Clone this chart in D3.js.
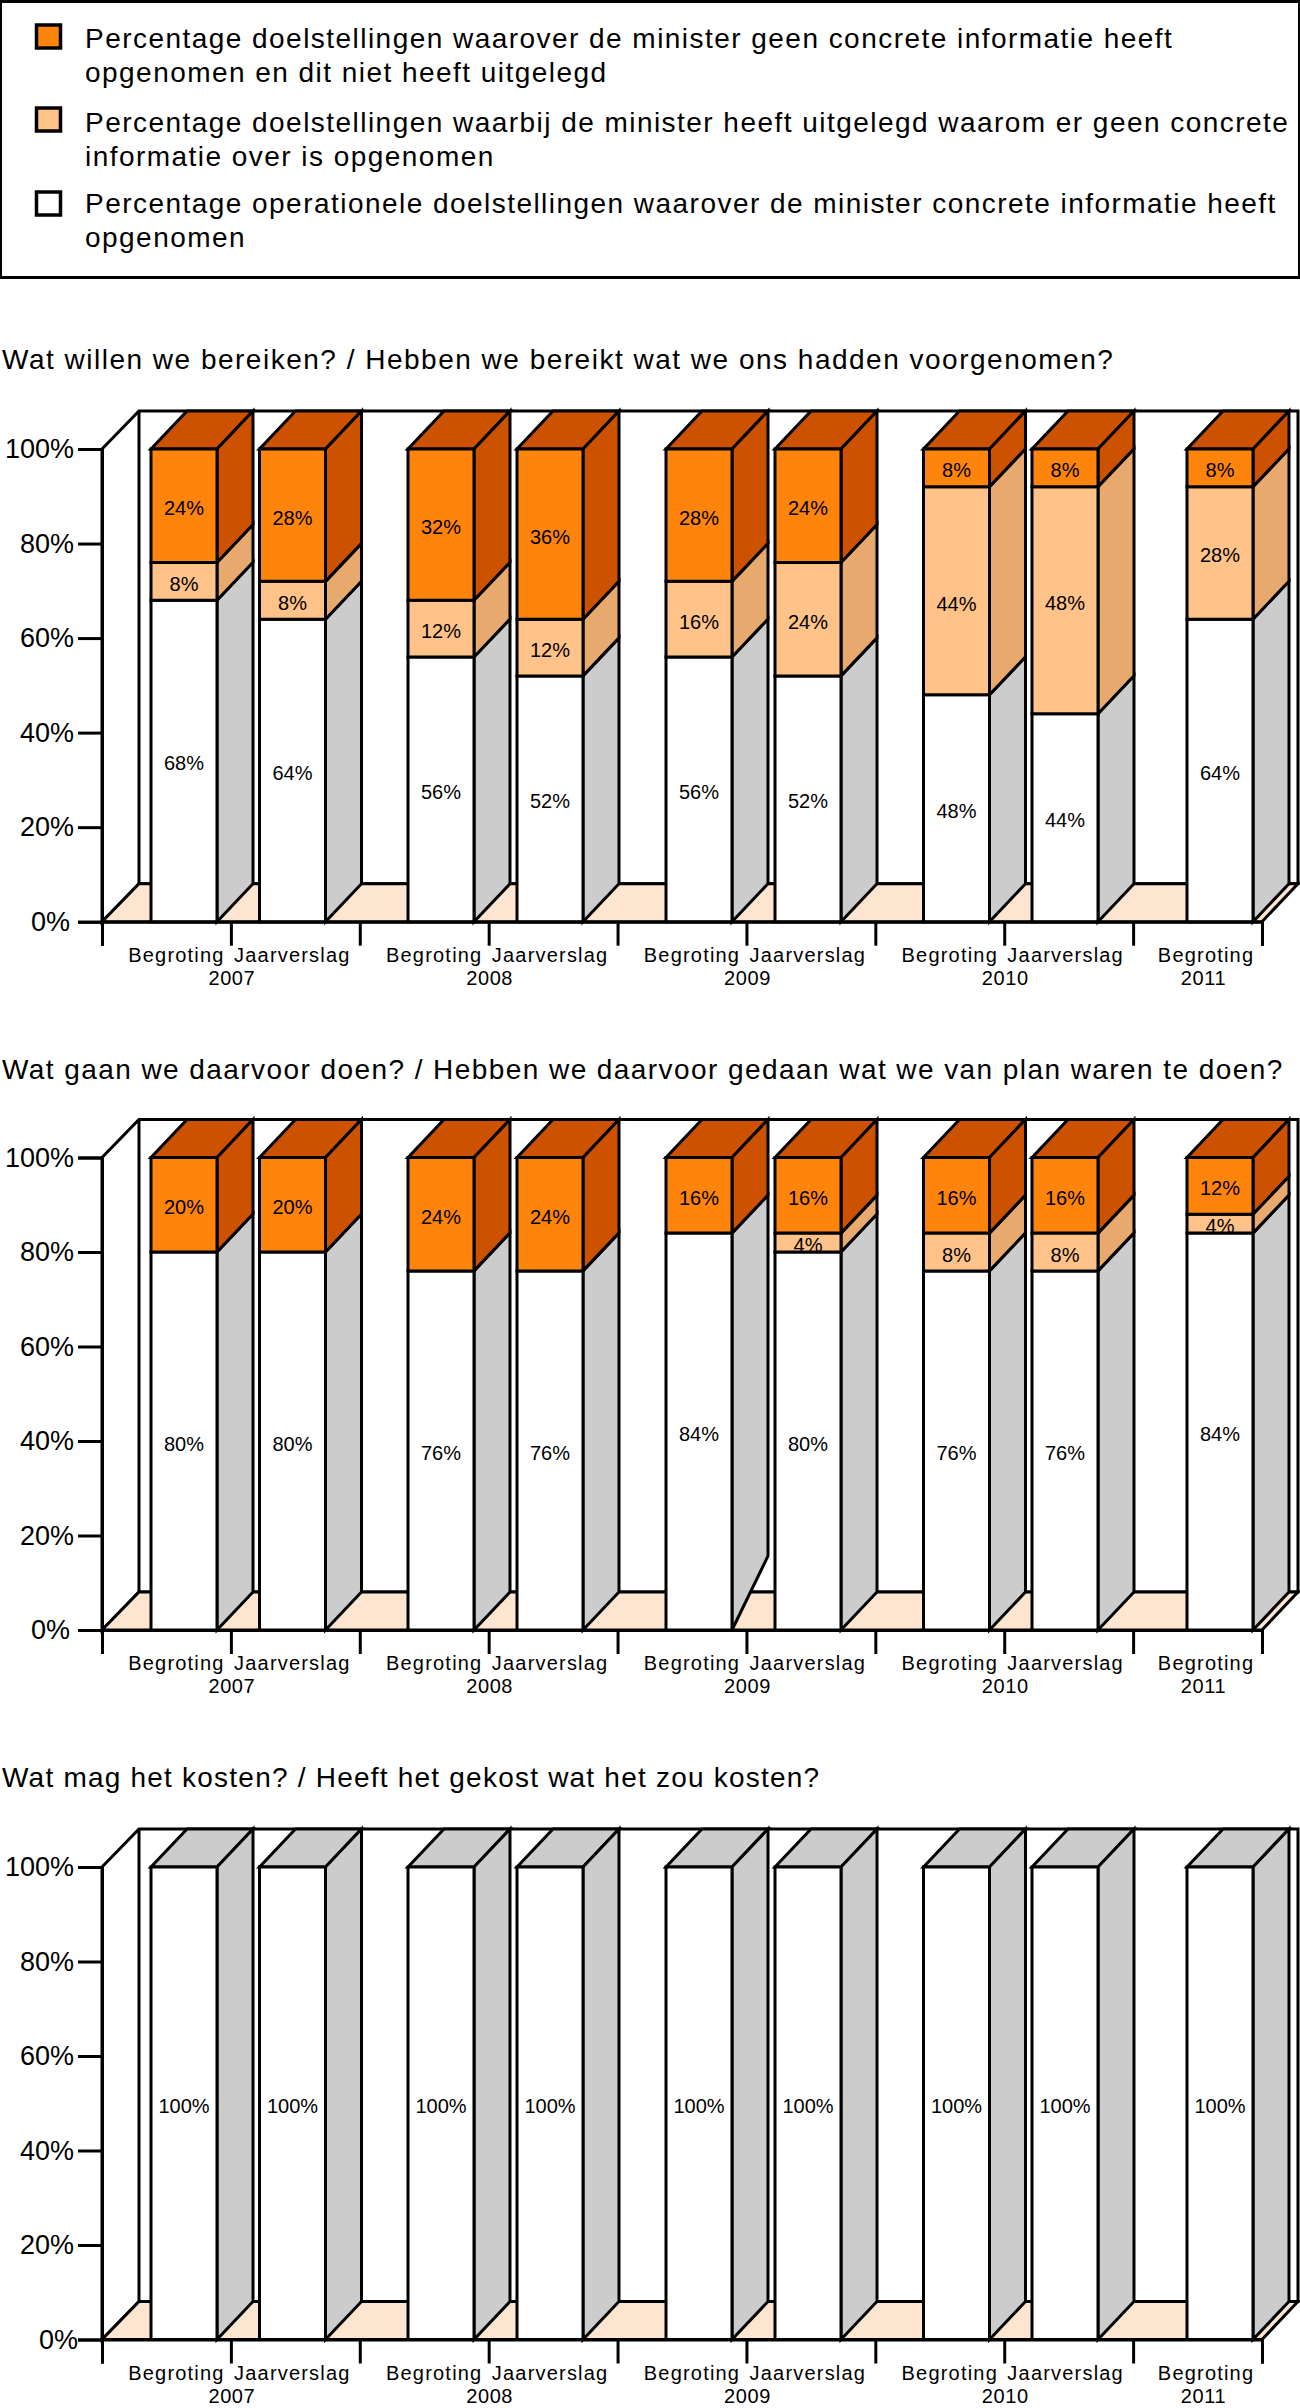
<!DOCTYPE html>
<html><head><meta charset="utf-8">
<script src="https://cdn.jsdelivr.net/npm/d3@7/dist/d3.min.js"></script>
<style>html,body{margin:0;padding:0;background:#fff}svg{display:block}text{font-family:"Liberation Sans",Arial,sans-serif;fill:#000}</style>
</head><body><svg id="c" width="1300" height="2408"></svg>
<script>
const legendLines1 = ["Percentage doelstellingen waarover de minister geen concrete informatie heeft","opgenomen en dit niet heeft uitgelegd"];
const legendLines2 = ["Percentage doelstellingen waarbij de minister heeft uitgelegd waarom er geen concrete","informatie over is opgenomen"];
const legendLines3 = ["Percentage operationele doelstellingen waarover de minister concrete informatie heeft","opgenomen"];
const barLabels = ["Begroting","Jaarverslag","Begroting","Jaarverslag","Begroting","Jaarverslag","Begroting","Jaarverslag","Begroting"];
const years = ["2007","2008","2009","2010","2011"];
const yTicks = [0,20,40,60,80,100];

const title1 = "Wat willen we bereiken? / Hebben we bereikt wat we ons hadden voorgenomen?";
const concrete1 = [68,64,56,52,56,52,48,44,64];
const explained1 = [8,8,12,12,16,24,44,48,28];
const missing1 = [24,28,32,36,28,24,8,8,8];

const title2 = "Wat gaan we daarvoor doen? / Hebben we daarvoor gedaan wat we van plan waren te doen?";
const concrete2 = [80,80,76,76,84,80,76,76,84];
const explained2 = [0,0,0,0,0,4,8,8,4];
const missing2 = [20,20,24,24,16,16,16,16,12];

const title3 = "Wat mag het kosten? / Heeft het gekost wat het zou kosten?";
const concrete3 = [100,100,100,100,100,100,100,100,100];
const explained3 = [0,0,0,0,0,0,0,0,0];
const missing3 = [0,0,0,0,0,0,0,0,0];

// ---- layout and style ----
const svg = d3.select("#c");
const SW = 3, DX = 36, DY = 38, BW = 66;
const front = {concrete:"#ffffff", explained:"#ffc288", missing:"#ff840c"};
const side = {concrete:"#cccccc", explained:"#e8a96e", missing:"#cc5200"};
const FLOOR = "#fde5cf";
const TS = 28, LS = 1.46;

svg.append("rect").attr("x",0.5).attr("y",1.5).attr("width",1299).attr("height",276)
  .attr("fill","#fff").attr("stroke","#000").attr("stroke-width",3);
const legend = [
  {k:"missing",lines:legendLines1,sy:25,b:48},
  {k:"explained",lines:legendLines2,sy:108,b:132},
  {k:"concrete",lines:legendLines3,sy:192,b:213}
];
legend.forEach(l=>{
  svg.append("rect").attr("x",36.5).attr("y",l.sy).attr("width",24).attr("height",23)
    .attr("fill",front[l.k]).attr("stroke","#000").attr("stroke-width",3.5);
  l.lines.forEach((t,i)=>svg.append("text").attr("x",85).attr("y",l.b+i*34)
    .attr("font-size",TS).attr("letter-spacing",LS).text(t));
});

const barX = d3.scaleLinear().domain(d3.range(9)).range([151,259.5,408,517,666,775,923.5,1032,1187]);
const tickX = d3.scaleLinear().domain([0,9]).range([102,1262]);
const labelNudge = {Begroting:10, Jaarverslag:-3};

function chart(cfg){
  const y = d3.scaleLinear().domain([0,100]).range([cfg.y0,cfg.y100]);
  const g = svg.append("g");
  g.append("text").attr("x",2).attr("y",cfg.titleY).attr("font-size",TS).attr("letter-spacing",cfg.titleLS).text(cfg.title);
  const L = tickX(0), R = tickX(9);
  const poly = (pts,fill)=>g.append("path").attr("d",d3.line()(pts)+"Z").attr("fill",fill)
     .attr("stroke","#000").attr("stroke-width",SW).attr("stroke-linejoin","miter");
  // walls
  poly([[L,y(100)],[L+DX+1,y(100)-DY],[R+DX,y(100)-DY],[R+DX,y(0)-DY],[L+DX+1,y(0)-DY],[L,y(0)]],"#fff");
  g.append("line").attr("x1",L+DX+1).attr("x2",L+DX+1).attr("y1",y(100)-DY).attr("y2",y(0)-DY).attr("stroke","#000").attr("stroke-width",SW);
  // floor
  poly([[L,y(0)],[L+DX+1,y(0)-DY],[R+DX,y(0)-DY],[R,y(0)]],FLOOR);

  // bars
  cfg.concrete.forEach((_,i)=>{
    const x0 = barX(i), x1 = x0+BW;
    let acc = 0;
    const segs = [["concrete",cfg.concrete[i]],["explained",cfg.explained[i]],["missing",cfg.missing[i]]]
       .filter(d=>d[1]>0).map(d=>{const s={k:d[0],v:d[1],a:acc,b:acc+d[1]};acc+=d[1];return s;});
    const topSeg = segs[segs.length-1];
    // top face
    poly([[x0,y(100)],[x1,y(100)],[x1+DX,y(100)-DY],[x0+DX,y(100)-DY]],side[topSeg.k]);
    segs.forEach(s=>{
      const lift = (s.a===0 && cfg.liftBar===i) ? cfg.lift : 0;
      poly([[x1,y(s.a)],[x1+DX,y(s.a)-DY-lift],[x1+DX,y(s.b)-DY],[x1,y(s.b)]],side[s.k]);
    });
    segs.forEach(s=>{
      poly([[x0,y(s.a)],[x1,y(s.a)],[x1,y(s.b)],[x0,y(s.b)]],front[s.k]);
    });
    segs.forEach(s=>{
      const extra = (cfg.shiftBar===i && s.k==="explained") ? cfg.shift : 0;
      g.append("text").attr("x",(x0+x1)/2).attr("y",y((s.a+s.b)/2)+9.5+extra).attr("text-anchor","middle")
        .attr("font-size",20).text(s.v+"%");
    });
  });

  // axes
  const ax = g.append("g").attr("transform",`translate(${L},0)`)
    .call(d3.axisLeft(y).tickValues(yTicks).tickFormat(d=>d+"%").tickSize(24).tickPadding(4));
  ax.select(".domain").attr("stroke","#000").attr("stroke-width",SW);
  ax.selectAll("line").attr("stroke","#000").attr("stroke-width",SW);
  ax.selectAll("text").attr("font-size",27).attr("font-family",'"Liberation Sans",Arial,sans-serif').attr("fill","#000")
    .attr("dx",d=>d===0?cfg.zeroDx:0);
  const bx = g.append("g").attr("transform",`translate(0,${y(0)})`)
    .call(d3.axisBottom(tickX).tickValues(d3.range(0,10)).tickFormat("").tickSize(24));
  bx.select(".domain").attr("stroke","#000").attr("stroke-width",SW);
  bx.selectAll("line").attr("stroke","#000").attr("stroke-width",SW);

  // category labels
  barLabels.forEach((t,i)=>{
    const nudge = i===8 ? 8.5 : labelNudge[t];
    g.append("text").attr("x",tickX(i+0.5)+nudge).attr("y",y(0)+40).attr("text-anchor","middle")
      .attr("font-size",20).attr("letter-spacing",1.2).text(t);
  });
  years.forEach((t,i)=>{
    const c = i===4 ? tickX(8.5)+6 : tickX(2*i+1)+1;
    g.append("text").attr("x",c).attr("y",y(0)+63).attr("text-anchor","middle")
      .attr("font-size",20).attr("letter-spacing",0.6).text(t);
  });
}

chart({title:title1,titleY:369,titleLS:1.5,y0:921.7,y100:449,concrete:concrete1,explained:explained1,missing:missing1,zeroDx:-4,shiftBar:6,shift:11});
chart({title:title2,titleY:1079,titleLS:1.43,y0:1630,y100:1157.5,concrete:concrete2,explained:explained2,missing:missing2,zeroDx:-4,liftBar:4,lift:36});
chart({title:title3,titleY:1787,titleLS:1.22,y0:2339.5,y100:1867,concrete:concrete3,explained:explained3,missing:missing3,zeroDx:4});
</script></body></html>
